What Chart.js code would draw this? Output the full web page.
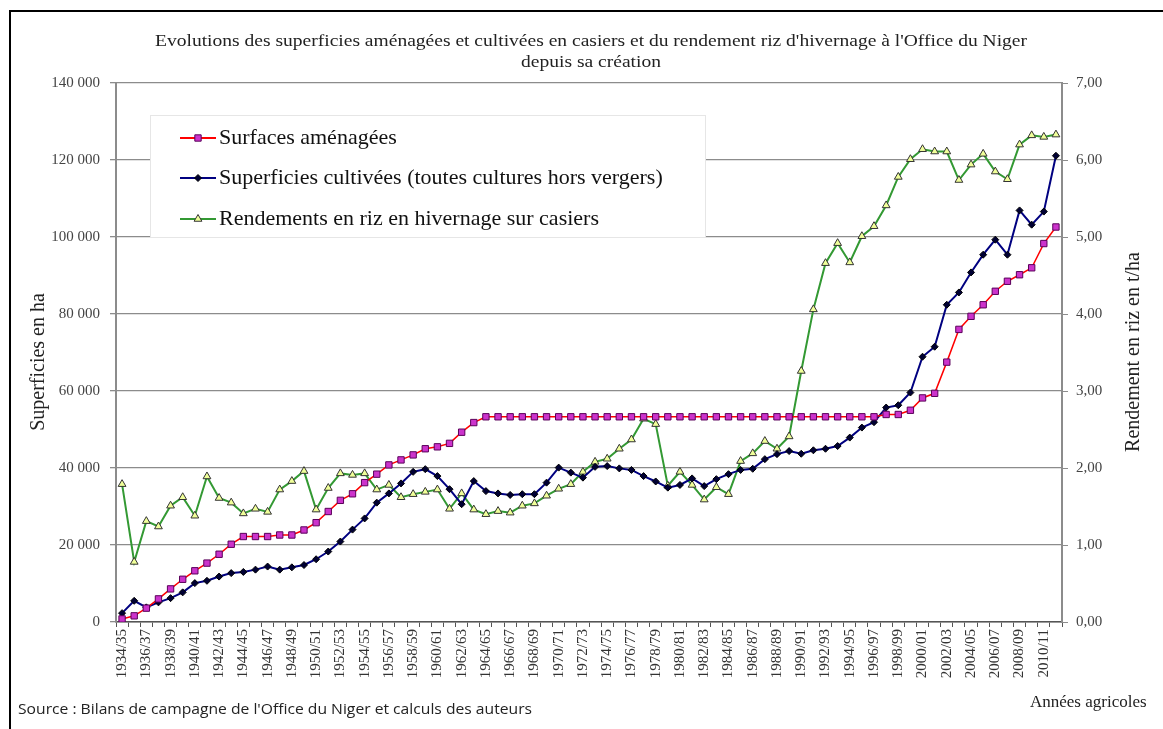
<!DOCTYPE html>
<html>
<head>
<meta charset="utf-8">
<script src="https://cdn.jsdelivr.net/npm/chart.js@4.4.1/dist/chart.umd.min.js"></script>
<style>
  html, body { margin: 0; padding: 0; background: #fff; }
  #wrap { width: 1163px; height: 729px; }
</style>
</head>
<body>
<div id="wrap"><canvas id="dashboardId"></canvas></div>
<script>
const labels = ['1934/35', '1935/36', '1936/37', '1937/38', '1938/39', '1939/40', '1940/41', '1941/42', '1942/43', '1943/44',
    '1944/45', '1945/46', '1946/47', '1947/48', '1948/49', '1949/50', '1950/51', '1951/52', '1952/53', '1953/54',
    '1954/55', '1955/56', '1956/57', '1957/58', '1958/59', '1959/60', '1960/61', '1961/62', '1962/63', '1963/64',
    '1964/65', '1965/66', '1966/67', '1967/68', '1968/69', '1969/70', '1970/71', '1971/72', '1972/73', '1973/74',
    '1974/75', '1975/76', '1976/77', '1977/78', '1978/79', '1979/80', '1980/81', '1981/82', '1982/83', '1983/84',
    '1984/85', '1985/86', '1986/87', '1987/88', '1988/89', '1989/90', '1990/91', '1991/92', '1992/93', '1993/94',
    '1994/95', '1995/96', '1996/97', '1997/98', '1998/99', '1999/00', '2000/01', '2001/02', '2002/03', '2003/04',
    '2004/05', '2005/06', '2006/07', '2007/08', '2008/09', '2009/10', '2010/11', '2011/12']

// superficies en ha
const surfacesAmenagees = [800, 1600, 3600, 6000, 8600, 11100, 13300, 15300, 17600, 20200,
    22200, 22200, 22200, 22600, 22600, 23900, 25800, 28700, 31600, 33300,
    36200, 38400, 40800, 42100, 43400, 45000, 45500, 46400, 49300, 51800,
    53300, 53300, 53300, 53300, 53300, 53300, 53300, 53300, 53300, 53300,
    53300, 53300, 53300, 53300, 53300, 53300, 53300, 53300, 53300, 53300,
    53300, 53300, 53300, 53300, 53300, 53300, 53300, 53300, 53300, 53300,
    53300, 53300, 53300, 53900, 53900, 55000, 58200, 59400, 67500, 76000,
    79400, 82400, 85900, 88500, 90200, 92000, 98300, 102600]

const superficiesCultivees = [2300, 5500, 3800, 5100, 6200, 7700, 10100, 10700, 11800, 12700,
    13000, 13600, 14400, 13600, 14200, 14800, 16300, 18300, 20900, 24000,
    26900, 31000, 33400, 36000, 39000, 39700, 37900, 34500, 30600, 36600,
    34000, 33400, 33000, 33200, 33200, 36200, 40100, 38800, 37500, 40300,
    40500, 39900, 39500, 37900, 36500, 34900, 35600, 37300, 35300, 37100,
    38400, 39500, 39800, 42300, 43600, 44400, 43700, 44600, 45000, 45700,
    47900, 50500, 51900, 55700, 56300, 59600, 68900, 71500, 82400, 85600,
    90800, 95400, 99300, 95400, 106900, 103200, 106600, 121100]

// rendement en t/ha
const rendementsRiz = [1.79, 0.78, 1.31, 1.24, 1.51, 1.62, 1.38, 1.89, 1.61, 1.55,
    1.41, 1.47, 1.43, 1.72, 1.83, 1.96, 1.46, 1.74, 1.93, 1.91,
    1.93, 1.72, 1.78, 1.62, 1.66, 1.69, 1.72, 1.47, 1.67, 1.46,
    1.40, 1.44, 1.42, 1.51, 1.54, 1.64, 1.73, 1.79, 1.95, 2.08,
    2.12, 2.25, 2.37, 2.64, 2.57, 1.77, 1.95, 1.78, 1.59, 1.75,
    1.66, 2.09, 2.19, 2.35, 2.25, 2.41, 3.26, 4.06, 4.66, 4.92,
    4.67, 5.01, 5.14, 5.41, 5.78, 6.01, 6.14, 6.11, 6.11, 5.74,
    5.94, 6.08, 5.85, 5.75, 6.20, 6.32, 6.30, 6.33]

const serif = '"Liberation Serif", "Times New Roman", serif'

// texte étiré horizontalement pour tenir dans une largeur donnée
const stretchText = (ctx, text, x, y, sx) => {
    ctx.save()
    ctx.translate(x, y)
    ctx.scale(sx, 1)
    ctx.fillText(text, 0, 0)
    ctx.restore()
}

const decor = {
    id: 'decor',
    afterDraw(chart) {
        const ctx = chart.ctx
        ctx.save()

        // cadre
        ctx.strokeStyle = '#000'
        ctx.lineWidth = 2
        ctx.beginPath()
        ctx.moveTo(10, 729)
        ctx.lineTo(10, 11)
        ctx.lineTo(1163, 11)
        ctx.stroke()

        // titre
        const t1 = "Evolutions des superficies aménagées et cultivées en casiers et du rendement riz d'hivernage à l'Office du Niger"
        ctx.fillStyle = '#222'
        ctx.textAlign = 'center'
        ctx.textBaseline = 'middle'
        ctx.font = '17px ' + serif
        const sx = 872 / ctx.measureText(t1).width
        stretchText(ctx, t1, 591, 42, sx)
        stretchText(ctx, 'depuis sa création', 591, 63, sx)

        // titres des axes
        ctx.font = '20px ' + serif
        ctx.save()
        ctx.translate(39, 362)
        ctx.rotate(-Math.PI / 2)
        ctx.fillText('Superficies en ha', 0, 0)
        ctx.restore()
        ctx.save()
        ctx.translate(1134, 352)
        ctx.rotate(-Math.PI / 2)
        ctx.fillText('Rendement en riz en t/ha', 0, 0)
        ctx.restore()

        // légende
        ctx.fillStyle = '#fff'
        ctx.fillRect(150, 115, 555, 122)
        ctx.strokeStyle = '#e6e6e6'
        ctx.lineWidth = 1
        ctx.strokeRect(150.5, 115.5, 555, 122)
        const rows = [138, 178, 219]
        chart.data.datasets.forEach((ds, i) => {
            const y = rows[i]
            ctx.strokeStyle = ds.borderColor
            ctx.lineWidth = 2
            ctx.beginPath()
            ctx.moveTo(180, y)
            ctx.lineTo(216, y)
            ctx.stroke()
            ctx.fillStyle = ds.pointBackgroundColor
            ctx.strokeStyle = ds.pointBorderColor
            ctx.lineWidth = 1
            Chart.helpers.drawPoint(ctx, { pointStyle: ds.pointStyle, radius: ds.pointRadius, rotation: 0, borderWidth: 1 }, 198, y)
            ctx.fillStyle = '#111'
            ctx.textAlign = 'left'
            ctx.font = '22px ' + serif
            ctx.fillText(ds.label, 219, y)
        })

        // notes
        ctx.fillStyle = '#222'
        ctx.textAlign = 'left'
        ctx.font = '15px "Open Sans", sans-serif'
        const src = "Source : Bilans de campagne de l'Office du Niger et calculs des auteurs"
        stretchText(ctx, src, 18, 710, 514 / ctx.measureText(src).width)
        ctx.font = '17px ' + serif
        ctx.fillText('Années agricoles', 1030, 703)

        ctx.restore()
    }
}

const fmtHa = v => v === 0 ? '0' : String(v).replace(/\B(?=(\d{3})+(?!\d))/g, ' ')

var data = {
    labels: labels,
    datasets: [{
        label: 'Surfaces aménagées',
        data: surfacesAmenagees,
        yAxisID: 'y',
        borderColor: '#ff0000',
        borderWidth: 1.5,
        pointStyle: 'rect',
        pointRadius: 4.5,
        pointBackgroundColor: '#cc33cc',
        pointBorderColor: '#5a005a',
        pointBorderWidth: 1
    }, {
        label: 'Superficies cultivées (toutes cultures hors vergers)',
        data: superficiesCultivees,
        yAxisID: 'y',
        borderColor: '#000080',
        borderWidth: 2,
        pointStyle: 'rectRot',
        pointRadius: 3.5,
        pointBackgroundColor: '#000033',
        pointBorderColor: '#000000',
        pointBorderWidth: 1
    }, {
        label: 'Rendements en riz en hivernage sur casiers',
        data: rendementsRiz,
        yAxisID: 'y2',
        borderColor: '#339933',
        borderWidth: 2,
        pointStyle: 'triangle',
        pointRadius: 4.5,
        pointBackgroundColor: '#f0ff99',
        pointBorderColor: '#333333',
        pointBorderWidth: 1
    }]
}

new Chart(document.getElementById('dashboardId'), {
    type: 'line',
    data: data,
    plugins: [decor],
    options: {
        responsive: true,
        maintainAspectRatio: false,
        animation: false,
        layout: { padding: { top: 83, left: 0, right: 0, bottom: 47 } },
        plugins: {
            legend: { display: false },
            title: { display: false },
            tooltip: { enabled: false }
        },
        elements: { line: { tension: 0 } },
        scales: {
            x: {
                offset: true,
                afterFit: s => { s.height = 60 },
                grid: { drawOnChartArea: false, offset: true, tickLength: 5, color: '#555' },
                border: { color: '#555', width: 1.5 },
                ticks: {
                    autoSkip: false,
                    minRotation: 90,
                    maxRotation: 90,
                    padding: 2,
                    color: '#333',
                    font: { family: serif, size: 15 },
                    callback: function (val, idx) { return idx % 2 === 0 ? this.getLabelForValue(val) : '' }
                }
            },
            y: {
                position: 'left',
                min: 0,
                max: 140000,
                afterFit: s => { s.width = 116 },
                grid: { color: '#8c8c8c', lineWidth: 1.3, tickLength: 6 },
                border: { color: '#8c8c8c', width: 2 },
                ticks: {
                    stepSize: 20000,
                    padding: 10,
                    color: '#444',
                    font: { family: serif, size: 15 },
                    callback: v => fmtHa(v)
                }
            },
            y2: {
                position: 'right',
                min: 0,
                max: 7,
                afterFit: s => { s.width = 101 },
                grid: { drawOnChartArea: false, color: '#8c8c8c', tickLength: 6 },
                border: { color: '#8c8c8c', width: 2 },
                ticks: {
                    stepSize: 1,
                    padding: 8,
                    color: '#444',
                    font: { family: serif, size: 15 },
                    callback: v => v.toFixed(2).replace('.', ',')
                }
            }
        }
    }
});
</script>
</body>
</html>
